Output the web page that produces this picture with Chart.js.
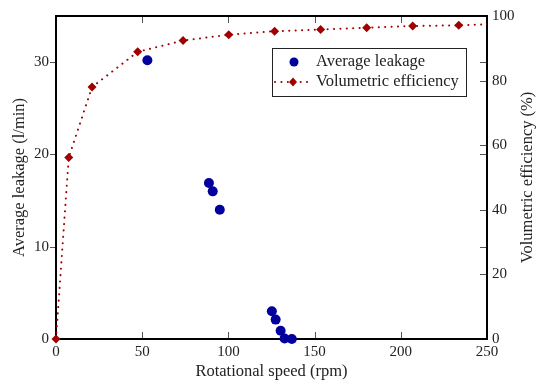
<!DOCTYPE html>
<html>
<head>
<meta charset="utf-8">
<script src="https://cdn.jsdelivr.net/npm/chart.js@4.4.0/dist/chart.umd.min.js"></script>
<style>
    html, body { margin: 0; padding: 0; background: #fff; }
    #wrap { width: 550px; height: 389px; position: relative; }
</style>
</head>
<body>
<div id="wrap"><canvas id="leakChart"></canvas></div>
<script>
// Average leakage measurements (rpm, l/min)
const leakSpeed = [53.0, 88.7, 90.9, 95.0, 125.2, 127.4, 130.3, 132.6, 136.8];
const leakValues = [30.2, 16.9, 16.0, 14.0, 3.0, 2.1, 0.9, 0.05, 0];

// Volumetric efficiency curve (rpm, %)
const effSpeed = [0, 7.4, 20.9, 47.4, 73.7, 100.2, 126.8, 153.5, 180.2, 206.9, 233.6, 260.3];
const effValues = [0, 56.2, 78.0, 88.9, 92.4, 94.2, 95.3, 95.8, 96.4, 96.9, 97.1, 97.6];

// Tick values
const speedTicks = [0, 50, 100, 150, 200, 250];
const leakTicks = [0, 10, 20, 30];
const effTicks = [0, 20, 40, 60, 80, 100];

const seriesNames = ['Average leakage', 'Volumetric efficiency'];
const effTitle = 'Volumetric efficiency (%)';

const BLUE = '#00009f';
const RED = '#a00000';
const FONT = "'Liberation Serif', serif";
const TEXT = '#222';
const TITLE_SIZE = 16.5;

/**
 * Draws the box frame and the small inner tick marks
 */
const frameTicks = {
    id: 'frameTicks',
    beforeDatasetsDraw(chart) {
        const { ctx, chartArea: a, scales } = chart;
        const len = 7;
        ctx.save();
        ctx.strokeStyle = '#555';
        ctx.lineWidth = 1;
        ctx.beginPath();
        speedTicks.slice(1, -1).forEach(v => {
            const x = Math.round(scales.x.getPixelForValue(v)) + 0.5;
            ctx.moveTo(x, a.bottom); ctx.lineTo(x, a.bottom - len);
            ctx.moveTo(x, a.top); ctx.lineTo(x, a.top + len);
        });
        leakTicks.slice(1).forEach(v => {
            const y = Math.round(scales.y.getPixelForValue(v)) + 0.5;
            ctx.moveTo(a.left, y); ctx.lineTo(a.left - 6, y);
            ctx.moveTo(a.right, y); ctx.lineTo(a.right - len, y);
        });
        effTicks.slice(1, -1).forEach(v => {
            const y = Math.round(scales.y2.getPixelForValue(v)) + 0.5;
            ctx.moveTo(a.right, y); ctx.lineTo(a.right - len, y);
        });
        ctx.stroke();

        ctx.strokeStyle = '#000';
        ctx.lineWidth = 2;
        ctx.strokeRect(a.left, a.top, a.right - a.left, a.bottom - a.top);

        // right axis title, reading bottom to top
        ctx.translate(528, (a.top + a.bottom) / 2);
        ctx.rotate(-Math.PI / 2);
        ctx.fillStyle = TEXT;
        ctx.font = TITLE_SIZE + 'px ' + FONT;
        ctx.textAlign = 'center';
        ctx.textBaseline = 'middle';
        ctx.fillText(effTitle, 0, 0);
        ctx.restore();
    }
};

/**
 * Legend box inside the plot, top right
 */
const boxLegend = {
    id: 'boxLegend',
    afterDraw(chart) {
        const ctx = chart.ctx;
        const x = 272, y = 48, w = 194, h = 48;
        ctx.save();
        ctx.fillStyle = '#fff';
        ctx.fillRect(x, y, w, h);
        ctx.strokeStyle = '#222';
        ctx.lineWidth = 1;
        ctx.strokeRect(x + 0.5, y + 0.5, w, h);

        // circle marker
        ctx.fillStyle = BLUE;
        ctx.beginPath();
        ctx.arc(294, 62, 4.5, 0, Math.PI * 2);
        ctx.fill();

        // dotted line with diamond
        ctx.strokeStyle = RED;
        ctx.lineWidth = 2;
        ctx.lineCap = 'round';
        ctx.setLineDash([0.1, 6.3]);
        ctx.beginPath();
        ctx.moveTo(275, 82); ctx.lineTo(313, 82);
        ctx.stroke();
        ctx.setLineDash([]);
        ctx.fillStyle = RED;
        ctx.beginPath();
        ctx.moveTo(293, 77.5); ctx.lineTo(297, 82); ctx.lineTo(293, 86.5); ctx.lineTo(289, 82);
        ctx.closePath();
        ctx.fill();

        ctx.fillStyle = TEXT;
        ctx.font = TITLE_SIZE + 'px ' + FONT;
        ctx.textBaseline = 'middle';
        ctx.fillText(seriesNames[0], 316, 62);
        ctx.fillText(seriesNames[1], 316, 82);
        ctx.restore();
    }
};

const ctx = document.getElementById('leakChart').getContext('2d');

new Chart(ctx, {
    type: 'scatter',
    data: {
        datasets: [{
            label: seriesNames[0],
            data: leakSpeed.map((s, i) => ({ x: s, y: leakValues[i] })),
            yAxisID: 'y',
            backgroundColor: BLUE,
            borderColor: BLUE,
            pointRadius: 5,
            pointBorderWidth: 0,
            clip: false,
            order: 2
        }, {
            label: seriesNames[1],
            data: effSpeed.map((s, i) => ({ x: s, y: effValues[i] })),
            yAxisID: 'y2',
            showLine: true,
            backgroundColor: RED,
            borderColor: RED,
            borderWidth: 2,
            borderDash: [0.1, 6.3],
            borderCapStyle: 'round',
            pointStyle: 'rectRot',
            pointRadius: 4.5,
            pointBorderWidth: 0,
            tension: 0,
            clip: { left: 10, top: 10, bottom: 10, right: 0 },
            order: 1
        }]
    },
    options: {
        responsive: true,
        maintainAspectRatio: false,
        animation: false,
        layout: { padding: { top: 16, left: 0, right: 0, bottom: 0 } },
        plugins: {
            legend: { display: false },
            tooltip: { enabled: false }
        },
        scales: {
            x: {
                type: 'linear',
                min: 0,
                max: 250,
                afterBuildTicks: s => { s.ticks = speedTicks.map(v => ({ value: v })); },
                afterFit: s => { s.height = 50; },
                grid: { display: false, drawTicks: false },
                border: { display: false },
                ticks: { color: TEXT, font: { family: FONT, size: 15 }, padding: 4, maxRotation: 0 },
                title: {
                    display: true,
                    text: 'Rotational speed (rpm)',
                    color: TEXT,
                    font: { family: FONT, size: TITLE_SIZE },
                    padding: { top: 0, bottom: 7 }
                }
            },
            y: {
                type: 'linear',
                position: 'left',
                min: 0,
                max: 35,
                afterBuildTicks: s => { s.ticks = leakTicks.map(v => ({ value: v })); },
                afterFit: s => { s.width = 56; },
                grid: { display: false, drawTicks: false },
                border: { display: false },
                ticks: { color: TEXT, font: { family: FONT, size: 15 }, padding: 7 },
                title: {
                    display: true,
                    text: 'Average leakage (l/min)',
                    color: TEXT,
                    font: { family: FONT, size: TITLE_SIZE },
                    padding: { top: 10, bottom: 0 }
                }
            },
            y2: {
                type: 'linear',
                position: 'right',
                min: 0,
                max: 100,
                afterBuildTicks: s => { s.ticks = effTicks.map(v => ({ value: v })); },
                afterFit: s => { s.width = 63; },
                grid: { display: false, drawTicks: false },
                border: { display: false },
                ticks: { color: TEXT, font: { family: FONT, size: 15 }, padding: 5 },
                title: { display: false }
            }
        }
    },
    plugins: [frameTicks, boxLegend]
});
</script>
</body>
</html>
